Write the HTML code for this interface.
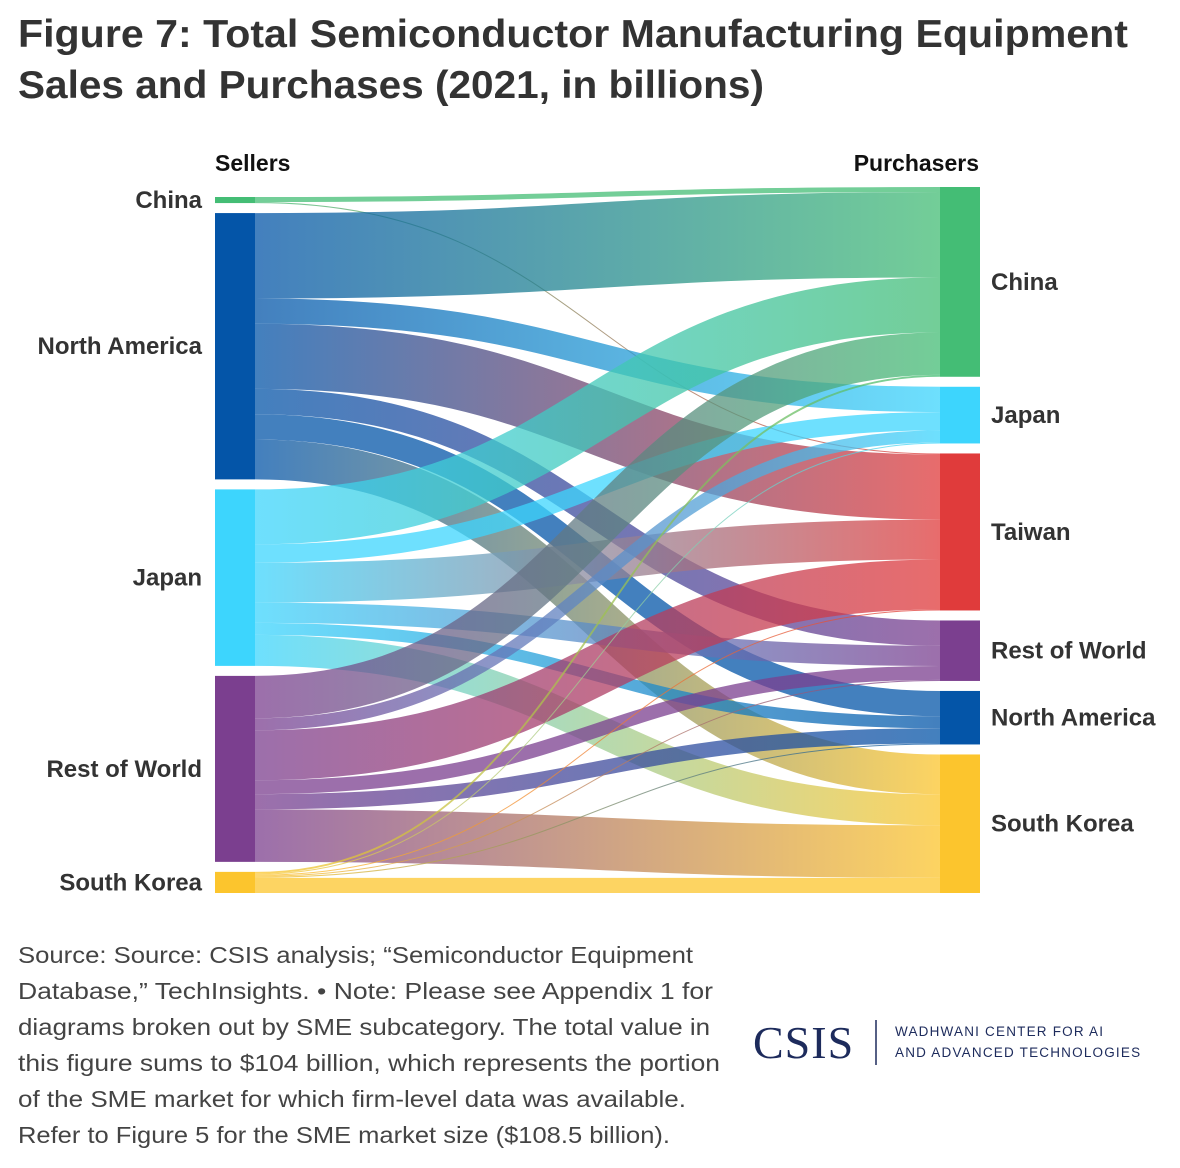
<!DOCTYPE html>
<html><head><meta charset="utf-8"><style>
body{margin:0;background:#fff;width:1180px;height:1168px;overflow:hidden;font-family:"Liberation Sans",sans-serif;}
</style></head><body>
<svg id="chart" width="1180" height="1168" xmlns="http://www.w3.org/2000/svg" style="position:absolute;left:0;top:0">
<text x="18" y="47" font-size="39" font-weight="bold" fill="#333" textLength="1110" lengthAdjust="spacingAndGlyphs">Figure 7: Total Semiconductor Manufacturing Equipment</text>
<text x="18" y="98" font-size="39" font-weight="bold" fill="#333" textLength="746" lengthAdjust="spacingAndGlyphs">Sales and Purchases (2021, in billions)</text>
<text x="215" y="171" font-size="23" font-weight="bold" fill="#111">Sellers</text>
<text x="979" y="171" font-size="23" font-weight="bold" fill="#111" text-anchor="end">Purchasers</text>
<g id="links"></g><g id="nodes"></g>
<g font-size="23.5" fill="#444" lengthAdjust="spacingAndGlyphs">
<text x="18" y="963" textLength="675" lengthAdjust="spacingAndGlyphs">Source: Source: CSIS analysis; “Semiconductor Equipment</text>
<text x="18" y="999" textLength="695" lengthAdjust="spacingAndGlyphs">Database,” TechInsights. • Note: Please see Appendix 1 for</text>
<text x="18" y="1035" textLength="692" lengthAdjust="spacingAndGlyphs">diagrams broken out by SME subcategory. The total value in</text>
<text x="18" y="1071" textLength="702" lengthAdjust="spacingAndGlyphs">this figure sums to $104 billion, which represents the portion</text>
<text x="18" y="1107" textLength="668" lengthAdjust="spacingAndGlyphs">of the SME market for which firm-level data was available.</text>
<text x="18" y="1143" textLength="652" lengthAdjust="spacingAndGlyphs">Refer to Figure 5 for the SME market size ($108.5 billion).</text>
</g>
<g>
<text x="753" y="1058" font-family="Liberation Serif,serif" font-size="46" fill="#1d2b5c" letter-spacing="1">CSIS</text>
<line x1="876" y1="1020" x2="876" y2="1065" stroke="#1d2b5c" stroke-width="1.5"/>
<text x="895" y="1036" font-size="13.5" fill="#1d2b5c" letter-spacing="1.2">WADHWANI CENTER FOR AI</text>
<text x="895" y="1057" font-size="13.5" fill="#1d2b5c" letter-spacing="1.2">AND ADVANCED TECHNOLOGIES</text>
</g>
</svg>
<script>
const sources=["China","North America","Japan","Rest of World","South Korea"];
const targets=["China","Japan","Taiwan","Rest of World","North America","South Korea"];
// flows[source][target], billions
const fromChina=[0.8,0,0.16,0,0,0];
const fromNorthAmerica=[13.5,4.0,10.3,4.0,4.0,6.3];
const fromJapan=[8.7,2.9,6.3,3.2,1.9,4.9];
const fromRestOfWorld=[6.7,1.9,7.9,2.2,2.4,8.3];
const fromSouthKorea=[0.3,0.16,0.16,0.16,0.16,2.4];
const flows=[fromChina,fromNorthAmerica,fromJapan,fromRestOfWorld,fromSouthKorea];
const colors={"China":"#44bd75","Japan":"#3dd5fd","Taiwan":"#e03b3b","Rest of World":"#7b3f8f","North America":"#0455a8","South Korea":"#fcc52d"};
const NS="http://www.w3.org/2000/svg";
const gap=10, topY=187, bottomY=893;
const total=flows.flat().reduce((a,b)=>a+b,0);
const k=(bottomY-topY-(targets.length-1)*gap)/total;
const svg=document.getElementById('chart');
const defs=document.createElementNS(NS,'defs');svg.insertBefore(defs,svg.firstChild);
const srcTot=sources.map((s,i)=>flows[i].reduce((a,b)=>a+b,0));
const tgtTot=targets.map((t,j)=>flows.reduce((a,r)=>a+r[j],0));
const lx=215,rx=940,w=40;
let yy0=197;const sy=srcTot.map(v=>{const r=yy0;yy0+=v*k+gap;return r;});
yy0=topY;const ty=tgtTot.map(v=>{const r=yy0;yy0+=v*k+gap;return r;});
const nodes=document.getElementById('nodes'),links=document.getElementById('links');
function label(x,yy,txt,anchor,name){const t=document.createElementNS(NS,'text');t.setAttribute('x',x);t.setAttribute('y',yy+8);t.setAttribute('font-size','24');t.setAttribute('font-weight','bold');t.setAttribute('fill','#333');t.setAttribute('text-anchor',anchor);t.textContent=txt;


nodes.appendChild(t);}
sources.forEach((s,i)=>{const r=document.createElementNS(NS,'rect');r.setAttribute('x',lx);r.setAttribute('y',sy[i]);r.setAttribute('width',w);r.setAttribute('height',srcTot[i]*k);r.setAttribute('fill',colors[s]);


nodes.appendChild(r);label(202,sy[i]+srcTot[i]*k/2,s,'end','seller-label-'+s.toLowerCase().replace(/ /g,'-'));});
targets.forEach((t,j)=>{const r=document.createElementNS(NS,'rect');r.setAttribute('x',rx);r.setAttribute('y',ty[j]);r.setAttribute('width',w);r.setAttribute('height',tgtTot[j]*k);r.setAttribute('fill',colors[t]);


nodes.appendChild(r);label(991,ty[j]+tgtTot[j]*k/2,t,'start','purchaser-label-'+t.toLowerCase().replace(/ /g,'-'));});
const so=sy.slice();
const x0=lx+w,x1=rx,mx=(x0+x1)/2;
const tStart=[];targets.forEach((t,j)=>{let o=ty[j];tStart[j]=[];sources.forEach((s,i)=>{tStart[j][i]=o;o+=flows[i][j]*k;});});
sources.forEach((s,i)=>{targets.forEach((t,j)=>{const v=flows[i][j];if(v<=0)return;const h=v*k;
const a=so[i];so[i]+=h;const b=tStart[j][i];
const gid='g'+i+'_'+j;const g=document.createElementNS(NS,'linearGradient');g.setAttribute('id',gid);g.setAttribute('gradientUnits','userSpaceOnUse');g.setAttribute('x1',x0);g.setAttribute('x2',x1);g.setAttribute('y1',0);g.setAttribute('y2',0);
g.innerHTML='<stop offset="0" stop-color="'+colors[s]+'"/><stop offset="1" stop-color="'+colors[t]+'"/>';defs.appendChild(g);
const p=document.createElementNS(NS,'path');const hm=Math.max(h,0.8);
p.setAttribute('d',`M${x0},${a+h/2}C${mx},${a+h/2} ${mx},${b+h/2} ${x1},${b+h/2}`);
p.setAttribute('stroke','url(#'+gid+')');p.setAttribute('stroke-width',hm);p.setAttribute('fill','none');p.setAttribute('stroke-opacity','0.75');


links.appendChild(p);});});
</script>
</body></html>
